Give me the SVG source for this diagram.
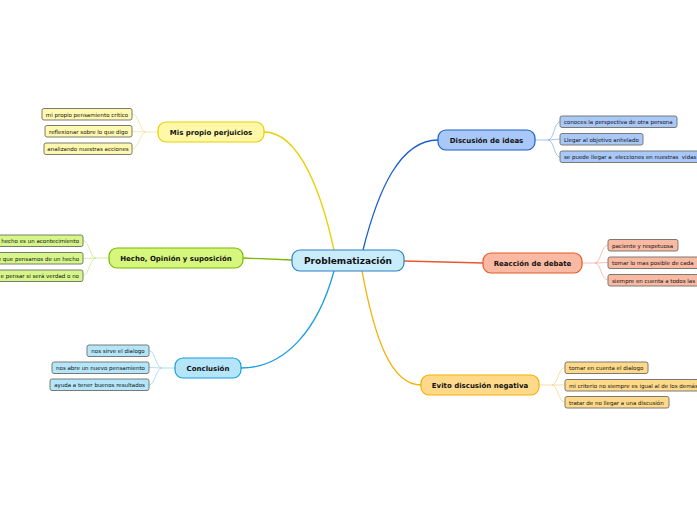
<svg xmlns="http://www.w3.org/2000/svg" width="697" height="520" viewBox="0 0 697 520">
<defs>
<style>
text{font-family:"DejaVu Sans",Verdana,sans-serif;fill:#111}
.main{font-size:7px;font-weight:bold;text-anchor:middle}
.root{font-size:9px;font-weight:bold;text-anchor:middle}
.leaf{font-size:5.5px}
.lr{text-anchor:end}
.ls{text-anchor:start}
.lm{text-anchor:middle}
.box{stroke-width:1.2}
.cbox{stroke:#7a7a72;stroke-width:1}
.con{fill:none;stroke-width:1.3}
.sub{fill:none;stroke-width:0.8}
</style>
</defs>
<rect width="697" height="520" fill="#ffffff"/>
<g id="connectors">
<path class="con" stroke="#e8d000" d="M264,132 C300,132 322,195 334,250"/>
<path class="con" stroke="#7ab800" d="M292,260 L243,258"/>
<path class="con" stroke="#1a9ee0" d="M334,271 C318,330 285,368 241,368"/>
<path class="con" stroke="#1a5fd0" d="M363,250 C378,190 400,140 438,140"/>
<path class="con" stroke="#e8582a" d="M404,261 L483,263"/>
<path class="con" stroke="#f5b000" d="M362,271 C374,335 390,385 421,385"/>
<g stroke="#f0e49a" class="sub">
<path d="M158,132 L146,132 C140,132 139,114 132,114"/>
<path d="M146,132 L132,131.5"/>
<path d="M146,132 C140,132 139,149 132,149"/>
</g>
<g stroke="#c8e88a" class="sub">
<path d="M109,258 L96,258 C90,258 89,240.5 83,240.5"/>
<path d="M96,258 L83,258.5"/>
<path d="M96,258 C90,258 89,275.5 83,275.5"/>
</g>
<g stroke="#9ad4f0" class="sub">
<path d="M175,368 L162,368 C156,368 155,350.5 149,350.5"/>
<path d="M162,368 L149,367.5"/>
<path d="M162,368 C156,368 155,385 149,385"/>
</g>
<g stroke="#8fb4ec" class="sub">
<path d="M535,140 L548,140 C554,140 554,122 560,122"/>
<path d="M548,140 L560,139"/>
<path d="M548,140 C554,140 554,157 560,157"/>
</g>
<g stroke="#f4b09a" class="sub">
<path d="M582,263 L595,263 C601,263 601,245 608,245"/>
<path d="M595,263 L608,262.5"/>
<path d="M595,263 C601,263 601,280 608,280"/>
</g>
<g stroke="#f6d68a" class="sub">
<path d="M539,385 L552,385 C558,385 558,367.5 565,367.5"/>
<path d="M552,385 L565,385"/>
<path d="M552,385 C558,385 558,402 565,402"/>
</g>
</g>
<g id="root">
<rect class="box" x="292" y="250" width="112" height="21" rx="8" fill="#c8ecfc" stroke="#2a80c8"/>
<text class="root" x="348" y="263.8">Problematización</text>
</g>
<g id="mis-propio-perjuicios">
<rect class="box" x="158" y="122" width="106" height="20" rx="8" fill="#fff8a8" stroke="#e8d000"/>
<text class="main" x="211" y="134.5">Mis propio perjuicios</text>
<rect class="cbox" x="42" y="108.5" width="90" height="11.5" rx="2" fill="#fff8b0"/>
<text class="leaf lm" x="87" y="116.5">mi propio pensamiento critico</text>
<rect class="cbox" x="45" y="125.5" width="87" height="11.5" rx="2" fill="#fff8b0"/>
<text class="leaf lm" x="88.5" y="133.5">reflexionar sobre lo que digo</text>
<rect class="cbox" x="44" y="143" width="88" height="11.5" rx="2" fill="#fff8b0"/>
<text class="leaf lm" x="88" y="151">analizando nuestras acciones</text>
</g>
<g id="hecho-opinion-suposicion">
<rect class="box" x="109" y="248" width="134" height="20" rx="8" fill="#d6f67e" stroke="#7ab800"/>
<text class="main" x="176" y="260.5">Hecho, Opinión y suposición</text>
<rect class="cbox" x="-20" y="235" width="103" height="11.5" rx="2" fill="#d6f68a"/>
<text class="leaf lr" x="79" y="243">hecho es un acontecimiento</text>
<rect class="cbox" x="-20" y="252.5" width="103" height="11.5" rx="2" fill="#d6f68a"/>
<text class="leaf lr" x="79" y="260.5">e que pensamos de un hecho</text>
<rect class="cbox" x="-20" y="270" width="103" height="11.5" rx="2" fill="#d6f68a"/>
<text class="leaf lr" x="79" y="278">e pensar si será verdad o no</text>
</g>
<g id="conclusion">
<rect class="box" x="175" y="358" width="66" height="20" rx="8" fill="#b5e5f8" stroke="#1a9ee0"/>
<text class="main" x="208" y="370.5">Conclusión</text>
<rect class="cbox" x="87" y="345" width="62" height="11.5" rx="2" fill="#b5e5f8"/>
<text class="leaf lm" x="118" y="353">nos sirve el dialogo</text>
<rect class="cbox" x="52" y="362" width="97" height="11.5" rx="2" fill="#b5e5f8"/>
<text class="leaf lm" x="100.5" y="370">nos abre un nuevo pensamiento</text>
<rect class="cbox" x="50" y="379" width="99" height="11.5" rx="2" fill="#b5e5f8"/>
<text class="leaf lm" x="99.5" y="387">ayuda a tener buenos resultados</text>
</g>
<g id="discusion-de-ideas">
<rect class="box" x="438" y="130" width="97" height="20" rx="8" fill="#a9c8f7" stroke="#1a5fd0"/>
<text class="main" x="486.5" y="142.5">Discusión de ideas</text>
<rect class="cbox" x="560" y="116" width="117" height="11.5" rx="2" fill="#a9c8f7"/>
<text class="leaf ls" x="564" y="124">conoces la perspectiva de otra persona</text>
<rect class="cbox" x="560" y="133.5" width="83" height="11.5" rx="2" fill="#a9c8f7"/>
<text class="leaf ls" x="564" y="141.5">Llegar al objetivo anhelado</text>
<rect class="cbox" x="560" y="151" width="150" height="11.5" rx="2" fill="#a9c8f7"/>
<text class="leaf ls" x="564" y="159" xml:space="preserve">se puede llegar a  elecciones en nuestras  vidas</text>
</g>
<g id="reaccion-de-debate">
<rect class="box" x="483" y="253" width="99" height="20" rx="8" fill="#f9b9a2" stroke="#e8582a"/>
<text class="main" x="532.5" y="265.5">Reacción de debate</text>
<rect class="cbox" x="608" y="239.5" width="70" height="11.5" rx="2" fill="#f9b9a2"/>
<text class="leaf ls" x="612" y="247.5">paciente y respetuosa</text>
<rect class="cbox" x="608" y="257" width="100" height="11.5" rx="2" fill="#f9b9a2"/>
<text class="leaf ls" x="612" y="265">tomar lo mas posible de cada</text>
<rect class="cbox" x="608" y="274.5" width="100" height="11.5" rx="2" fill="#f9b9a2"/>
<text class="leaf ls" x="612" y="282.5">siempre en cuenta a todos las</text>
</g>
<g id="evito-discusion-negativa">
<rect class="box" x="421" y="375" width="118" height="20" rx="8" fill="#ffd98a" stroke="#f5b000"/>
<text class="main" x="480" y="387.5">Evito discusión negativa</text>
<rect class="cbox" x="565" y="362" width="83" height="11.5" rx="2" fill="#ffd98a"/>
<text class="leaf ls" x="569" y="370">tomar en cuenta el dialogo</text>
<rect class="cbox" x="565" y="379.5" width="150" height="11.5" rx="2" fill="#ffd98a"/>
<text class="leaf ls" x="569" y="387.5">mi criterio no siempre es igual al de los demás</text>
<rect class="cbox" x="565" y="396.5" width="104" height="11.5" rx="2" fill="#ffd98a"/>
<text class="leaf ls" x="569" y="404.5">tratar de no llegar a una discusión</text>
</g>
</svg>
